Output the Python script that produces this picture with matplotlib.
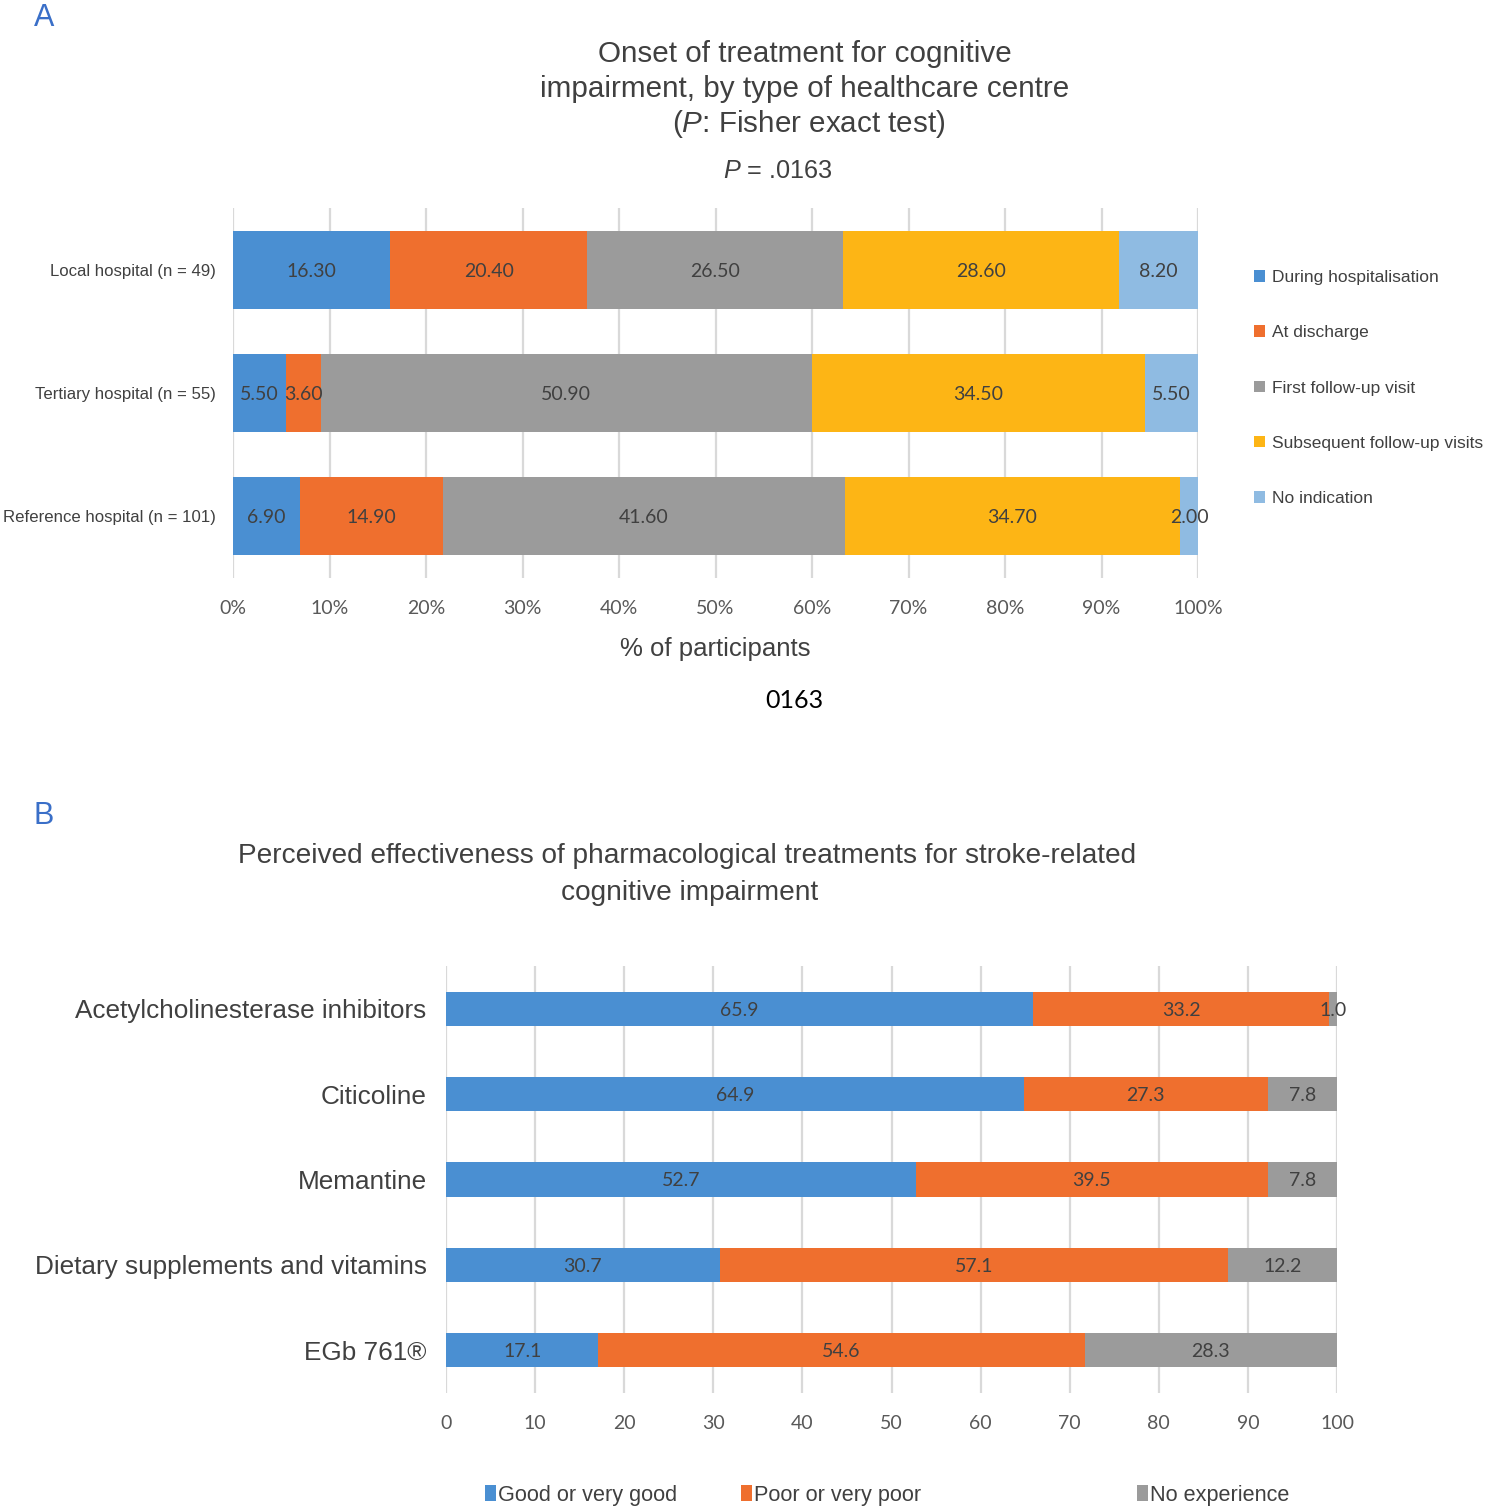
import numpy as np
import matplotlib
matplotlib.use("Agg")
import matplotlib.pyplot as plt
from matplotlib.patches import Patch

plt.rcParams['font.family'] = ['Liberation Sans', 'DejaVu Sans']
plt.rcParams['mathtext.fontset'] = 'custom'
plt.rcParams['mathtext.rm'] = 'Liberation Sans'
plt.rcParams['mathtext.it'] = 'Liberation Sans:italic'

# Panel A data
centres = ["Local hospital (n = 49)", "Tertiary hospital (n = 55)", "Reference hospital (n = 101)"]
onset_labels = ["During hospitalisation", "At discharge", "First follow-up visit",
                "Subsequent follow-up visits", "No indication"]
during_hosp = [16.30, 5.50, 6.90]
at_discharge = [20.40, 3.60, 14.90]
first_visit = [26.50, 50.90, 41.60]
later_visits = [28.60, 34.50, 34.70]
no_indication = [8.20, 5.50, 2.00]
pct_ticks = [0, 10, 20, 30, 40, 50, 60, 70, 80, 90, 100]

# Panel B data
treatments = ["Acetylcholinesterase inhibitors", "Citicoline", "Memantine",
              "Dietary supplements and vitamins", "EGb 761\u00ae"]
effect_labels = ["Good or very good", "Poor or very poor", "No experience"]
good = [65.9, 64.9, 52.7, 30.7, 17.1]
poor = [33.2, 27.3, 39.5, 57.1, 54.6]
no_exp = [1.0, 7.8, 7.8, 12.2, 28.3]
b_ticks = [0, 10, 20, 30, 40, 50, 60, 70, 80, 90, 100]

W, H = 1485, 1511
colors_a = ['#4A8FD2', '#EF6F2E', '#9B9B9B', '#FDB515', '#8FBBE2']
colors_b = ['#4A8FD2', '#EF6F2E', '#9B9B9B']
txt = '#404040'
lab_font = ['Lato', 'DejaVu Sans']

fig = plt.figure(figsize=(W / 100, H / 100), dpi=100)


def fx(px):
    return px / W


def fy(py):
    return 1 - py / H


def style_axis(ax, ticks, fmt, pad_y, pad_x):
    ax.set_xlim(0, 100)
    ax.set_xticks(ticks)
    ax.set_xticklabels([fmt.format(t) for t in ticks], fontfamily=lab_font, fontsize=14, color='#595959')
    for s in ax.spines.values():
        s.set_visible(False)
    ax.tick_params(axis='both', length=0)
    ax.tick_params(axis='x', pad=pad_x)
    ax.tick_params(axis='y', pad=pad_y)
    ax.xaxis.grid(True, color='#D9D9D9', linewidth=1.6)
    ax.set_axisbelow(True)


# ---------------- Panel A ----------------
axA = fig.add_axes([fx(233), fy(578), fx(1198) - fx(233), fy(208) - fy(578)])
series_a = [during_hosp, at_discharge, first_visit, later_visits, no_indication]
ya = np.arange(len(centres))
left = np.zeros(len(centres))
handles_a = []
for vals, col, name in zip(series_a, colors_a, onset_labels):
    vals = np.array(vals)
    axA.barh(ya, vals, left=left, height=0.63, color=col, edgecolor='none')
    for y, l, v in zip(ya, left, vals):
        axA.text(l + v / 2, y, f"{v:.2f}", ha='center', va='center_baseline',
                 fontsize=14, color=txt, fontfamily=lab_font)
    left = left + vals
    handles_a.append(Patch(facecolor=col, label=name))
axA.set_ylim(2.5, -0.5)
axA.set_yticks(ya)
axA.set_yticklabels(centres, fontsize=12.1, color=txt)
style_axis(axA, pct_ticks, "{}%", 12, 16)
axA.set_xlabel("% of participants", fontsize=18.5, color=txt, labelpad=14)

fig.legend(handles=handles_a, loc='center left', bbox_to_anchor=(fx(1254), fy(388)),
           frameon=False, fontsize=12.5, labelspacing=2.32, handlelength=0.65,
           handleheight=0.65, handletextpad=0.4, borderpad=0, borderaxespad=0,
           labelcolor=txt)

fig.text(fx(44), fy(18), "A", fontsize=22, color='#3A6FC8', ha='center', va='center')
fig.text(fx(805), fy(54), "Onset of treatment for cognitive", fontsize=21.3, color=txt, ha='center', va='center')
fig.text(fx(805), fy(89), "impairment, by type of healthcare centre", fontsize=21.3, color=txt, ha='center', va='center')
fig.text(fx(809), fy(124), r"($\it{P}$: Fisher exact test)", fontsize=21.3, color=txt, ha='center', va='center')
fig.text(fx(778), fy(171), r"$\it{P}$ = .0163", fontsize=18.2, color=txt, ha='center', va='center')
fig.text(fx(794), fy(700), "0163", fontsize=18, color='black', ha='center', va='center', fontfamily=lab_font)

# ---------------- Panel B ----------------
axB = fig.add_axes([fx(446), fy(1393), fx(1337) - fx(446), fy(966) - fy(1393)])
series_b = [good, poor, no_exp]
yb = np.arange(len(treatments))
left = np.zeros(len(treatments))
for vals, col in zip(series_b, colors_b):
    vals = np.array(vals)
    axB.barh(yb, vals, left=left, height=0.4, color=col, edgecolor='none')
    for y, l, v in zip(yb, left, vals):
        axB.text(l + v / 2, y, f"{v:.1f}", ha='center', va='center_baseline',
                 fontsize=14, color=txt, fontfamily=lab_font)
    left = left + vals
axB.set_ylim(4.5, -0.5)
axB.set_yticks(yb)
axB.set_yticklabels(treatments, fontsize=18.8, color=txt)
style_axis(axB, b_ticks, "{}", 14, 16)

leg_x = [485, 741, 1137]
for name, col, x in zip(effect_labels, colors_b, leg_x):
    fig.legend(handles=[Patch(facecolor=col, label=name)], loc='center left',
               bbox_to_anchor=(fx(x), fy(1495)), frameon=False, fontsize=15.6,
               handlelength=0.5, handleheight=0.7, handletextpad=0.1,
               borderpad=0, borderaxespad=0, labelcolor=txt)

fig.text(fx(44), fy(816), "B", fontsize=22, color='#3A6FC8', ha='center', va='center')
fig.text(fx(687), fy(856), "Perceived effectiveness of pharmacological treatments for stroke-related",
         fontsize=20.2, color=txt, ha='center', va='center')
fig.text(fx(690), fy(893), "cognitive impairment", fontsize=20.2, color=txt, ha='center', va='center')

fig.savefig("out.png", dpi=100)
